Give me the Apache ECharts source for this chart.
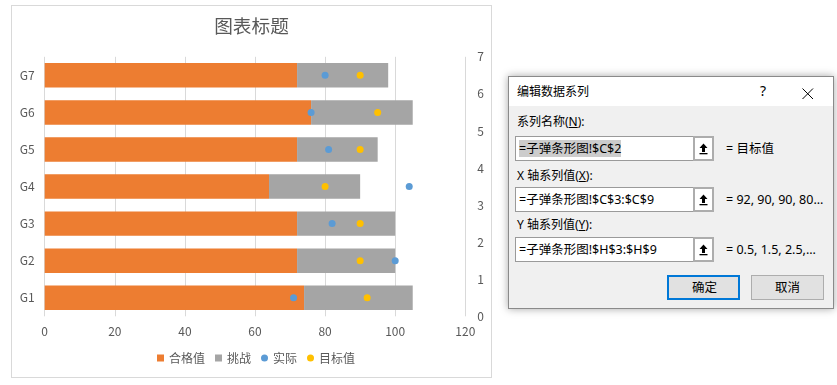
<!DOCTYPE html>
<html>
<head>
<meta charset="utf-8">
<script src="https://cdn.jsdelivr.net/npm/echarts@6/dist/echarts.min.js"></script>
<style>
  html, body { margin: 0; padding: 0; background: #fff; width: 837px; height: 385px; overflow: hidden; position: relative; }
  #chart { position: absolute; left: 11px; top: 5px; width: 481px; height: 373px; box-sizing: border-box; border: 1px solid #d9d9d9; background: #fff; }
  .d { position: absolute; font-family: 'Noto Sans', 'Noto Sans CJK SC', sans-serif; font-size: 12px; color: #000; white-space: nowrap; line-height: 16px; }
  .box { position: absolute; box-sizing: border-box; }
</style>
</head>
<body>
<div id="chart"></div>
<div id="dialog"></div>
<script>
// ---- data ----
var categories = ['G1', 'G2', 'G3', 'G4', 'G5', 'G6', 'G7'];
var passValues = [74, 72, 72, 64, 72, 76, 72];          // 合格值
var challengeValues = [31, 28, 28, 26, 23, 29, 26];     // 挑战
var actualValues = [71, 100, 82, 104, 81, 76, 80];      // 实际
var targetValues = [92, 90, 90, 80, 90, 95, 90];        // 目标值
var posY = [0.5, 1.5, 2.5, 3.5, 4.5, 5.5, 6.5];         // Y 轴系列值
var xTicks = [0, 20, 40, 60, 80, 100, 120];
var y2Ticks = [0, 1, 2, 3, 4, 5, 6, 7];
var seriesNames = ['合格值', '挑战', '实际', '目标值'];
var titleText = '图表标题';

var FONT = "'Noto Sans CJK SC', sans-serif";
var chart = echarts.init(document.getElementById('chart'), null, { renderer: 'canvas' });
function pairs(xs) { return xs.map(function (v, i) { return [v, posY[i]]; }); }

chart.setOption({
  animation: false,
  textStyle: { fontFamily: FONT },
  title: {
    text: titleText, left: 'center', top: 11, padding: 0,
    textStyle: { fontSize: 18.67, fontWeight: 'normal', color: '#595959', fontFamily: FONT }
  },
  legend: {
    left: 145, top: 346, padding: 0, itemGap: 10, itemWidth: 7, itemHeight: 7,
    textStyle: { color: '#595959', fontSize: 12, fontFamily: FONT },
    data: [
      { name: seriesNames[0], icon: 'rect' },
      { name: seriesNames[1], icon: 'rect' },
      { name: seriesNames[2], icon: 'circle' },
      { name: seriesNames[3], icon: 'circle' }
    ]
  },
  grid: { left: 32.7, right: 25.7, top: 50.8, bottom: 60.7, containLabel: false },
  xAxis: {
    type: 'value', min: xTicks[0], max: xTicks[xTicks.length - 1], interval: xTicks[1] - xTicks[0],
    axisLine: { show: false }, axisTick: { show: false },
    splitLine: { show: true, lineStyle: { color: '#d9d9d9', width: 1 } },
    axisLabel: { color: '#595959', fontSize: 12, margin: 9, fontFamily: FONT }
  },
  yAxis: [
    {
      type: 'category', data: categories,
      axisLine: { show: false }, axisTick: { show: false },
      axisLabel: { color: '#595959', fontSize: 12, margin: 10, fontFamily: FONT }
    },
    {
      type: 'value', position: 'right', min: y2Ticks[0], max: y2Ticks[y2Ticks.length - 1], interval: 1,
      axisLine: { show: false }, axisTick: { show: false }, splitLine: { show: false },
      axisLabel: { color: '#595959', fontSize: 12, margin: 12, fontFamily: FONT }
    }
  ],
  series: [
    { name: seriesNames[0], type: 'bar', stack: 'a', yAxisIndex: 0, barWidth: '66%', data: passValues, itemStyle: { color: '#ED7D31' } },
    { name: seriesNames[1], type: 'bar', stack: 'a', yAxisIndex: 0, barWidth: '66%', data: challengeValues, itemStyle: { color: '#A5A5A5' } },
    { name: seriesNames[2], type: 'scatter', yAxisIndex: 1, symbolSize: 7, data: pairs(actualValues), itemStyle: { color: '#5B9BD5', opacity: 1 } },
    { name: seriesNames[3], type: 'scatter', yAxisIndex: 1, symbolSize: 7, data: pairs(targetValues), itemStyle: { color: '#FFC000', opacity: 1 } }
  ]
});

// ---- dialog (编辑数据系列) ----
var dlg = document.getElementById('dialog');
function box(x, y, w, h, style) {
  var e = document.createElement('div'); e.className = 'box';
  e.style.left = x + 'px'; e.style.top = y + 'px'; e.style.width = w + 'px'; e.style.height = h + 'px';
  for (var k in style) e.style[k] = style[k];
  dlg.appendChild(e); return e;
}
function txt(html, x, yc, style) {
  var e = document.createElement('div'); e.className = 'd';
  e.innerHTML = html; e.style.left = x + 'px'; e.style.top = (yc - 8) + 'px';
  for (var k in style) e.style[k] = style[k];
  dlg.appendChild(e); return e;
}
var arrowSvg = '<svg width="17" height="21" viewBox="0 0 17 21" style="position:absolute;left:0;top:0">' +
  '<polygon points="8.5,5.5 12.5,10 10,10 10,14 7,14 7,10 4.5,10" fill="#000"/>' +
  '<rect x="4.5" y="15" width="8" height="1.3" fill="#000"/></svg>';
function inputRow(y, text, highlight) {
  box(515, y, 179, 25, { border: '1px solid #9a9a9a', background: '#fff' });
  var b = box(693, y, 21, 25, { border: '2px solid #adadad', background: '#fff' });
  b.innerHTML = arrowSvg;
  var t = txt(text, 519, y + 12.5, { fontSize: '12.5px' });
  if (highlight) { t.style.background = '#cccccc'; t.style.lineHeight = '17px'; t.style.top = (y + 4) + 'px'; }
}

box(508, 76, 326, 233, { border: '1px solid #8a8a8a', background: '#f0f0f0', boxShadow: '0 0 8px rgba(0,0,0,0.35)' });
box(509, 77, 324, 29, { background: '#ffffff' });
txt('编辑数据系列', 517, 91.5);
txt('?', 760, 91, { fontSize: '14px' });
var xIcon = document.createElement('div'); xIcon.className = 'box';
xIcon.style.left = '802px'; xIcon.style.top = '86px';
xIcon.innerHTML = '<svg width="12" height="12"><line x1="0.5" y1="0.5" x2="11" y2="11" stroke="#000" stroke-width="1"/><line x1="11" y1="0.5" x2="0.5" y2="11" stroke="#000" stroke-width="1"/></svg>';
dlg.appendChild(xIcon);

txt('系列名称(<u>N</u>):', 517, 122);
inputRow(136, '=子弹条形图!$C$2', true);
txt('= ' + seriesNames[3], 726, 149, { fontSize: '12.5px' });

txt('X 轴系列值(<u>X</u>):', 517, 176);
inputRow(187, '=子弹条形图!$C$3:$C$9', false);
txt('= ' + targetValues.slice(0, 4).join(', ') + '...', 726, 199.5, { fontSize: '12.5px' });

txt('Y 轴系列值(<u>Y</u>):', 517, 225);
inputRow(237, '=子弹条形图!$H$3:$H$9', false);
txt('= ' + posY.slice(0, 3).join(', ') + ',...', 726, 249.5, { fontSize: '12.5px' });

var ok = box(667, 275, 73, 25, { border: '2px solid #0078d7', background: '#e1e1e1' });
var cancel = box(751, 275, 73, 25, { border: '1px solid #adadad', background: '#e1e1e1' });
txt('确定', 692, 287.5, { fontSize: '12.5px' });
txt('取消', 775, 287.5, { fontSize: '12.5px' });
</script>
</body>
</html>
